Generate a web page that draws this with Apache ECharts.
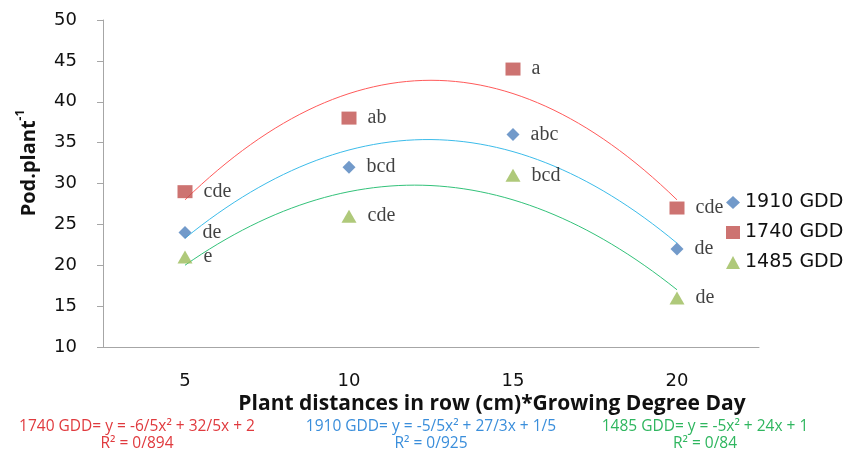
<!DOCTYPE html>
<html><head><meta charset="utf-8">
<script src="https://cdn.jsdelivr.net/npm/echarts@6/dist/echarts.min.js"></script>
<style>html,body{margin:0;padding:0;background:#fff}#c{width:853px;height:450px}</style>
</head><body><div id="c"></div>
<script>
var categories = ['5', '10', '15', '20'];
var yTicks = {min: 10, max: 50, interval: 5};
var names = ['1740 GDD', '1910 GDD', '1485 GDD'];
var gdd1740 = [29, 38, 44, 27];
var gdd1910 = [24, 32, 36, 22];
var gdd1485 = [21, 26, 31, 16];
var letters1740 = ['cde', 'ab', 'a', 'cde'];
var letters1910 = ['de', 'bcd', 'abc', 'de'];
var letters1485 = ['e', 'cde', 'bcd', 'de'];
var eq1740 = ['1740 GDD= y = -6/5x² + 32/5x + 2', 'R² = 0/894'];
var eq1910 = ['1910 GDD= y = -5/5x² + 27/3x + 1/5', 'R² = 0/925'];
var eq1485 = ['1485 GDD= y = -5x² + 24x + 1', 'R² = 0/84'];

var markerCol = {'1740 GDD': '#c0504d', '1910 GDD': '#4f81bd', '1485 GDD': '#9bbb59'};
var trendCol = {'1740 GDD': '#ff5a5a', '1910 GDD': '#3cbcea', '1485 GDD': '#33c27a'};
var symbols = {'1740 GDD': 'rect', '1910 GDD': 'diamond', '1485 GDD': 'triangle'};
var sizes = {'1740 GDD': [15, 13], '1910 GDD': [13, 13], '1485 GDD': [15, 13]};

// least-squares quadratic fit (Excel polynomial trendline, x = 1..n)
function fitQuad(ys) {
  var S = [0,0,0,0,0], T = [0,0,0];
  ys.forEach(function (y, i) {
    var x = i + 1, p = 1;
    for (var k = 0; k < 5; k++) { S[k] += p; if (k < 3) T[k] += p * y; p *= x; }
  });
  var A = [[S[0],S[1],S[2],T[0]],[S[1],S[2],S[3],T[1]],[S[2],S[3],S[4],T[2]]];
  for (var c = 0; c < 3; c++) {
    for (var r = c + 1; r < 3; r++) {
      var f = A[r][c] / A[c][c];
      for (var k = c; k < 4; k++) A[r][k] -= f * A[c][k];
    }
  }
  var s = [0,0,0];
  for (var r = 2; r >= 0; r--) {
    var v = A[r][3];
    for (var k = r + 1; k < 3; k++) v -= A[r][k] * s[k];
    s[r] = v / A[r][r];
  }
  return s;
}
function trendData(ys) {
  var s = fitQuad(ys), out = [];
  for (var i = 0; i <= 60; i++) {
    var x = 1 + (ys.length - 1) * i / 60;
    out.push([x, s[0] + s[1] * x + s[2] * x * x]);
  }
  return out;
}

var dataMap = {'1740 GDD': gdd1740, '1910 GDD': gdd1910, '1485 GDD': gdd1485};
var letterMap = {'1740 GDD': letters1740, '1910 GDD': letters1910, '1485 GDD': letters1485};

var series = [];
names.forEach(function (n) {
  series.push({
    type: 'line', xAxisIndex: 1, data: trendData(dataMap[n]), showSymbol: false, silent: true,
    lineStyle: {width: 1, color: trendCol[n]}, z: 1, animation: false
  });
});
names.forEach(function (n) {
  series.push({
    name: n, type: 'scatter', xAxisIndex: 0, data: dataMap[n], symbol: symbols[n], symbolSize: sizes[n],
    itemStyle: {color: markerCol[n]}, z: 3, animation: false,
    label: {show: true, position: 'right', distance: 11, color: '#111', fontFamily: 'Liberation Serif', fontSize: 20,
      formatter: function (p) { return letterMap[n][p.dataIndex]; }}
  });
});

var axisGray = '#a6a6a6';
var eqFont = {fontFamily: 'Open Sans', fontSize: 15.5, align: 'center', verticalAlign: 'middle'};
function eqText(x, y, t, col) {
  return {type: 'text', x: x, y: y, style: Object.assign({text: t, fill: col}, eqFont)};
}
var chart = echarts.init(document.getElementById('c'), null, {renderer: 'canvas'});
chart.setOption({
  backgroundColor: '#fff',
  animation: false,
  grid: {left: 103, right: 94, top: 20, bottom: 103},
  legend: {
    data: ['1910 GDD', '1740 GDD', '1485 GDD'], orient: 'vertical', left: 721, top: 188,
    itemWidth: 14, itemHeight: 13, itemGap: 11,
    textStyle: {fontFamily: 'DejaVu Sans', fontSize: 19, color: '#111'}
  },
  xAxis: [{
    type: 'category', data: categories, boundaryGap: true,
    axisLine: {lineStyle: {color: axisGray}}, axisTick: {length: 6, lineStyle: {color: axisGray}},
    axisLabel: {color: '#111', fontFamily: 'DejaVu Sans', fontSize: 18, margin: 25},
    splitLine: {show: false}
  }, {
    type: 'value', min: 0.5, max: 4.5, show: false
  }],
  yAxis: {
    type: 'value', min: yTicks.min, max: yTicks.max, interval: yTicks.interval,
    axisLine: {show: true, lineStyle: {color: axisGray}}, axisTick: {show: true, length: 6, lineStyle: {color: axisGray}},
    axisLabel: {color: '#111', fontFamily: 'DejaVu Sans', fontSize: 18, margin: 26},
    splitLine: {show: false}
  },
  graphic: [
    {type: 'text', x: 27, y: 163, rotation: Math.PI / 2, style: {
      text: '{m|Pod.plant}{s|-1}', align: 'center', verticalAlign: 'middle',
      rich: {m: {fontFamily: 'Open Sans', fontWeight: 'bold', fontSize: 20, fill: '#111', lineHeight: 24, verticalAlign: 'bottom'},
             s: {fontFamily: 'Open Sans', fontWeight: 'bold', fontSize: 12, fill: '#111', lineHeight: 24, verticalAlign: 'top', padding: [0, 0, 8, 0]}}
    }},
    {type: 'text', x: 492, y: 404, style: {text: 'Plant distances in row (cm)*Growing Degree Day', align: 'center', verticalAlign: 'middle',
      fontFamily: 'Open Sans', fontWeight: 'bold', fontSize: 21, fill: '#111'}},
    eqText(137, 427, eq1740[0], '#e03a3e'),
    eqText(137, 444, eq1740[1], '#e03a3e'),
    eqText(431, 427, eq1910[0], '#3a8edb'),
    eqText(431, 444, eq1910[1], '#3a8edb'),
    eqText(705, 427, eq1485[0], '#2fb65f'),
    eqText(705, 444, eq1485[1], '#2fb65f')
  ],
  series: series
});
</script></body></html>
